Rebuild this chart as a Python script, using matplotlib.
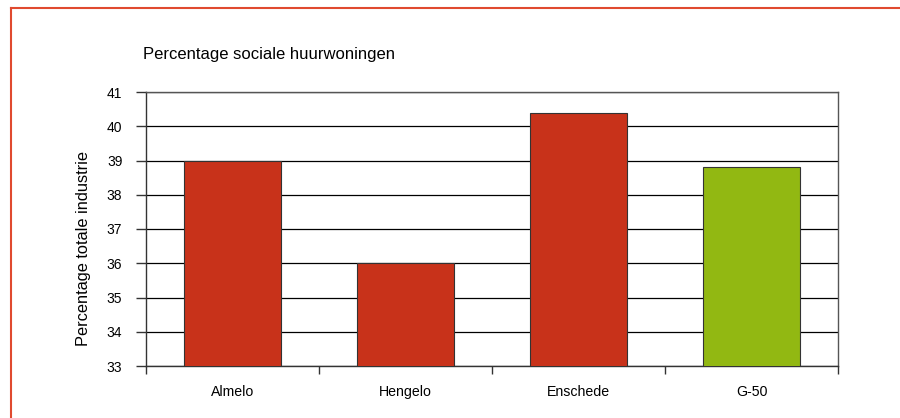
import numpy as np
import matplotlib
matplotlib.use("Agg")
import matplotlib.pyplot as plt
from matplotlib.lines import Line2D

# --- DATA ---
gemeenten = ["Almelo", "Hengelo", "Enschede", "G-50"]
percentages = [39.0, 36.0, 40.4, 38.8]
bar_colors = ["#c8321a", "#c8321a", "#c8321a", "#92b812"]
y_ticks = [33, 34, 35, 36, 37, 38, 39, 40, 41]

plt.rcParams["font.family"] = ["Liberation Sans", "DejaVu Sans"]

# --- FIGURE ---
W, H = 900, 418
fig = plt.figure(figsize=(W / 100, H / 100), dpi=100)
ax = fig.add_axes([146 / W, 1 - 366 / H, (838 - 146) / W, (366 - 92) / H])

x = np.arange(len(gemeenten))
ax.bar(x, percentages, width=0.565, color=bar_colors, edgecolor="#333333",
       linewidth=0.8, zorder=3)

ax.set_xlim(-0.5, len(gemeenten) - 0.5)
ax.set_ylim(33, 41)
ax.set_yticks(y_ticks)
ax.yaxis.grid(True, color="black", linewidth=0.9, zorder=1)

# category labels without marks, marks between categories
ax.set_xticks(x)
ax.set_xticklabels(gemeenten, fontsize=10.2)
ax.tick_params(axis="x", which="major", length=0, pad=14)
ax.set_xticks(np.arange(-0.5, len(gemeenten)), minor=True)
ax.tick_params(axis="x", which="minor", length=6, width=1, color="#333333",
               direction="out")
ax.tick_params(axis="y", length=7, width=1, color="#333333", pad=10,
               labelsize=10)

for s in ax.spines.values():
    s.set_color("#555555")
    s.set_linewidth(1.0)
ax.spines["bottom"].set_color("#333333")
ax.spines["left"].set_color("#333333")

ax.set_ylabel("Percentage totale industrie", fontsize=11.8)
ax.yaxis.set_label_coords(-0.0795, 0.43)

fig.text(143 / W, 1 - 55 / H, "Percentage sociale huurwoningen",
         fontsize=12, va="center", ha="left")

# red frame (left and top edges)
fig.add_artist(Line2D([11 / W, 11 / W], [0, 1 - 8 / H],
                      transform=fig.transFigure, color="#e04a2f", lw=1.5))
fig.add_artist(Line2D([11 / W, 1], [1 - 8 / H, 1 - 8 / H],
                      transform=fig.transFigure, color="#e04a2f", lw=1.5))

fig.savefig("out.png", dpi=100)
plt.close(fig)
